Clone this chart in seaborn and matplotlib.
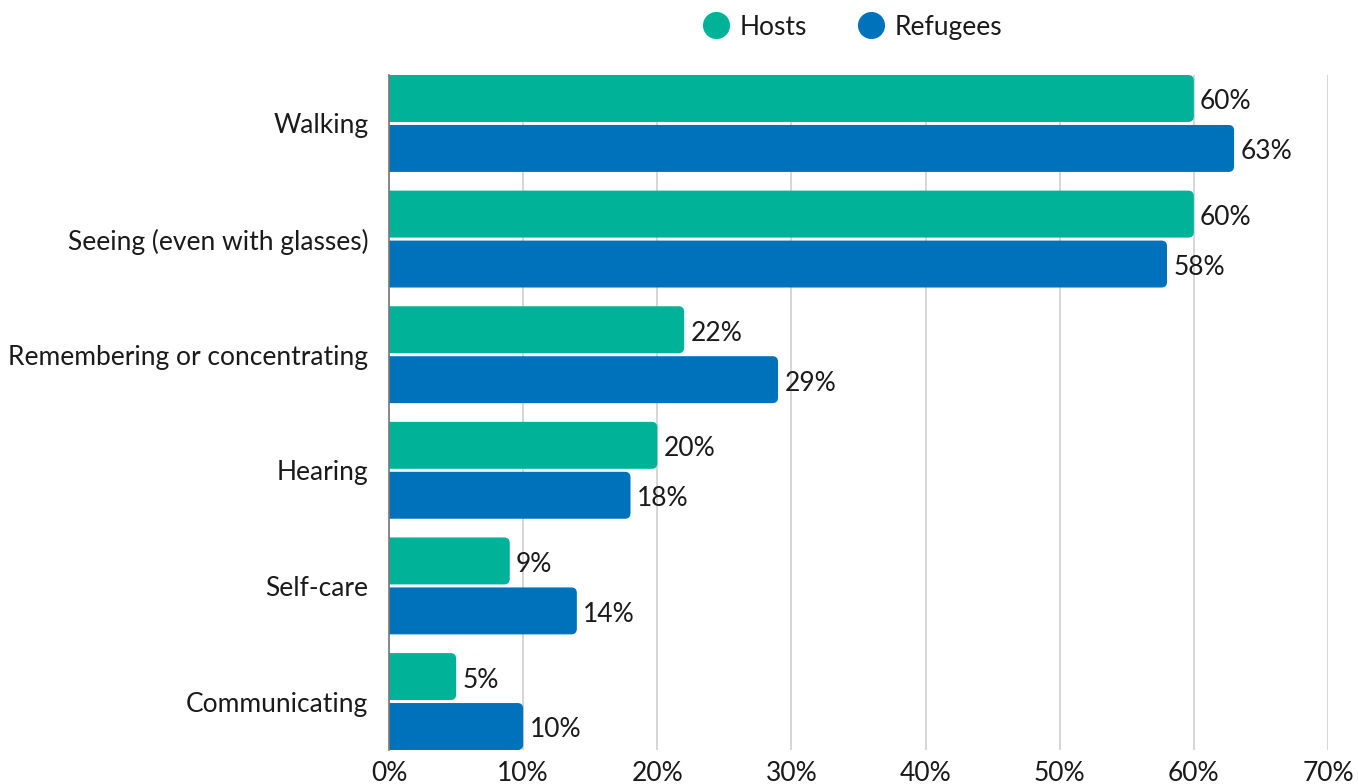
import matplotlib
matplotlib.use("Agg")
import matplotlib.pyplot as plt
from matplotlib.patches import FancyBboxPatch
from matplotlib.lines import Line2D
import seaborn as sns
import pandas as pd

# Functional difficulty categories and the share of each group reporting them
categories = ["Walking", "Seeing (even with glasses)", "Remembering or concentrating",
              "Hearing", "Self-care", "Communicating"]
hosts = [60, 60, 22, 20, 9, 5]
refugees = [63, 58, 29, 18, 14, 10]
groups = ["Hosts", "Refugees"]
x_ticks = [0, 10, 20, 30, 40, 50, 60, 70]

GREEN = "#00B398"
BLUE = "#0072BC"
TEXT = "#1a1a1a"

df = pd.DataFrame({
    "category": categories * 2,
    "value": hosts + refugees,
    "group": [groups[0]] * len(categories) + [groups[1]] * len(categories),
})

sns.set_theme(style="white")
plt.rcParams["font.family"] = ["Lato", "DejaVu Sans"]
FS = 19

fig = plt.figure(figsize=(13.58, 7.84), dpi=100)
ax = fig.add_axes([0.2865, 0.0434, 0.9779 - 0.2865, 0.9043 - 0.0434])

sns.barplot(data=df, x="value", y="category", hue="group", order=categories,
            hue_order=groups, palette=[GREEN, BLUE], saturation=1, orient="h",
            width=0.864, gap=0.06, legend=False, ax=ax, zorder=3)

# Replace the square bars with bars rounded on their outer end
px_per_x = (0.9779 - 0.2865) * 1358 / 70.0
px_per_y = (0.9043 - 0.0434) * 784 / 6.0
radius_x = 5.5 / px_per_x
for patch in list(ax.patches):
    x0, y0 = patch.get_x(), patch.get_y()
    w, h = patch.get_width(), patch.get_height()
    color = patch.get_facecolor()
    patch.set_visible(False)
    box = FancyBboxPatch((x0 - 3, y0), w + 3, h,
                         boxstyle=f"round,pad=0,rounding_size={radius_x}",
                         mutation_aspect=px_per_x / px_per_y,
                         facecolor=color, edgecolor="none", zorder=3,
                         clip_on=True)
    ax.add_patch(box)
    ax.annotate(f"{w:.0f}%", xy=(w, y0 + h / 2), xytext=(4.5, -2.5),
                textcoords="offset points", va="center", ha="left",
                fontsize=FS, color=TEXT, zorder=4)

ax.set_xlim(0, 70)
ax.set_ylim(5.419, -0.419)
ax.set_xticks(x_ticks)
ax.set_xticklabels([f"{t}%" for t in x_ticks])
ax.set_xlabel("")
ax.set_ylabel("")
ax.grid(axis="x", color="#d0d0d0", linewidth=1.2, zorder=0)
ax.grid(axis="y", visible=False)
ax.set_axisbelow(True)

for side in ["top", "right", "bottom"]:
    ax.spines[side].set_visible(False)
ax.spines["left"].set_color("#777777")
ax.spines["left"].set_linewidth(1.2)
ax.spines["left"].set_zorder(5)

ax.tick_params(axis="x", length=0, pad=8, labelsize=FS, labelcolor=TEXT)
ax.tick_params(axis="y", length=0, pad=15, labelsize=FS, labelcolor=TEXT)

handles = [Line2D([], [], marker="o", linestyle="none", markersize=19.5,
                  markerfacecolor=c, markeredgecolor="none") for c in (GREEN, BLUE)]
ax.legend(handles, groups, loc="center", bbox_to_anchor=(0.4936, 1.071), ncol=2,
          frameon=False, fontsize=FS, handlelength=1.0, handletextpad=0.4,
          columnspacing=1.9, labelcolor=TEXT, borderaxespad=0, borderpad=0)

fig.savefig("out.png", dpi=100, facecolor="white")
